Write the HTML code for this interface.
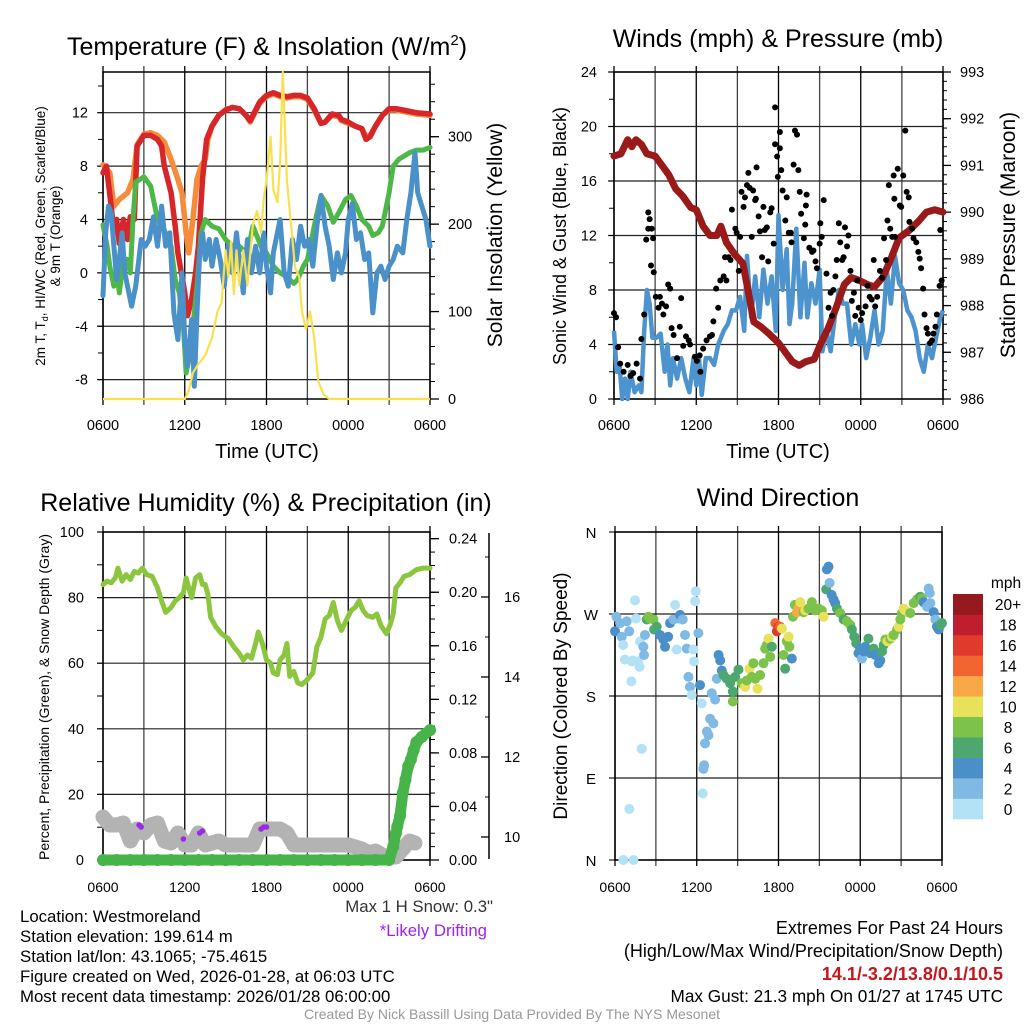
<!DOCTYPE html>
<html><head><meta charset="utf-8"><style>
html,body{margin:0;padding:0;background:#fff;}
svg{display:block;font-family:"Liberation Sans",sans-serif;}
</style></head><body>
<svg id="fig" width="1024" height="1024" viewBox="0 0 1024 1024" xmlns="http://www.w3.org/2000/svg">
<rect width="1024" height="1024" fill="#fff"/>
<g id="p1"></g>
<g id="p2"></g>
<g id="p3"></g>
<g id="p4"></g>
<g font-size="25" fill="#000" text-anchor="middle">
<text x="267" y="55">Temperature (F) &amp; Insolation (W/m<tspan dy="-10" font-size="15">2</tspan><tspan dy="10">)</tspan></text>
<text x="778" y="47">Winds (mph) &amp; Pressure (mb)</text>
<text x="266" y="511">Relative Humidity (%) &amp; Precipitation (in)</text>
<text x="778" y="506">Wind Direction</text>
</g>
<g fill="#000" text-anchor="middle">
<text x="267" y="458" font-size="20">Time (UTC)</text>
<text x="778" y="458" font-size="20">Time (UTC)</text>
<text font-size="13.5" transform="translate(45,236) rotate(-90)">2m T, T<tspan font-size="9" dy="3">d</tspan><tspan dy="-3">, HI/WC (Red, Green, Scarlet/Blue)</tspan></text>
<text font-size="13.5" transform="translate(60,236) rotate(-90)">&amp; 9m T (Orange)</text>
<text font-size="21" transform="translate(502,235) rotate(-90)">Solar Insolation (Yellow)</text>
<text font-size="18" transform="translate(566,236) rotate(-90)">Sonic Wind &amp; Gust (Blue, Black)</text>
<text font-size="21" transform="translate(1015,235) rotate(-90)">Station Pressure (Maroon)</text>
<text font-size="14" transform="translate(49,697) rotate(-90)">Percent, Precipitation (Green), &amp; Snow Depth (Gray)</text>
<text font-size="19" transform="translate(567,696) rotate(-90)">Direction (Colored By Speed)</text>
</g>
<g font-size="16.8" fill="#000">
<text x="20" y="922">Location: Westmoreland</text>
<text x="20" y="942">Station elevation: 199.614 m</text>
<text x="20" y="962">Station lat/lon: 43.1065; -75.4615</text>
<text x="20" y="982">Figure created on Wed, 2026-01-28, at 06:03 UTC</text>
<text x="20" y="1002">Most recent data timestamp: 2026/01/28 06:00:00</text>
<text x="493" y="912" text-anchor="end" fill="#333">Max 1 H Snow: 0.3"</text>
<text x="487" y="936" text-anchor="end" fill="#a020f0">*Likely Drifting</text>
<text x="1003" y="934" text-anchor="end" font-size="18">Extremes For Past 24 Hours</text>
<text x="1003" y="957" text-anchor="end" font-size="18">(High/Low/Max Wind/Precipitation/Snow Depth)</text>
<text x="1003" y="980" text-anchor="end" fill="#c4161c" font-weight="bold" font-size="18">14.1/-3.2/13.8/0.1/10.5</text>
<text x="1003" y="1002" text-anchor="end" font-size="17.2">Max Gust: 21.3 mph On 01/27 at 1745 UTC</text>
<text x="512" y="1019" text-anchor="middle" font-size="14" fill="#999">Created By Nick Bassill Using Data Provided By The NYS Mesonet</text>
</g>
</svg>
<script>
// ---------- data (hours since 0600 UTC) ----------
const xTickLabels = ["0600","1200","1800","0000","0600"];
const tempRed = [[0,7.5],[0.25,8],[0.6,5],[0.8,3],[1,4],[1.2,2.2],[1.5,4],[1.8,2.5],[2,4.2],[2.3,4],[2.5,9.5],[3,10.3],[3.5,10.3],[4,10],[4.3,9.5],[4.5,8],[5,6],[5.3,3.5],[5.5,1.5],[6,-1.5],[6.2,-3.2],[6.5,-2],[6.8,0],[7,2],[7.3,7],[7.6,10],[8,11],[8.5,11.8],[9,12.2],[9.5,12.4],[10,12.3],[10.5,11.8],[10.8,11.4],[11,11.8],[11.5,12.8],[12,13.3],[12.5,13.5],[13,13.3],[13.5,13.2],[14,13.3],[14.5,13.3],[15,13.1],[15.5,12.3],[16,11.2],[16.3,11.3],[16.8,11.9],[17.3,11.8],[17.5,11.5],[18,11.3],[18.5,11],[19,10.8],[19.3,10],[19.6,10.2],[20,11],[20.5,11.8],[21,12.3],[21.5,12.3],[22,12.2],[23,12],[24,11.9]];
const tempOrange = [[0,8.1],[0.5,7.5],[0.8,5],[1.2,5.5],[1.8,6],[2.2,7],[2.5,9.6],[3,10.4],[3.5,10.5],[4,10.3],[4.5,9.8],[5,8.5],[5.5,7],[5.8,6],[6.1,3],[6.3,1.5],[6.6,4],[6.9,7],[7.2,8],[7.5,8.5],[7.7,10],[8,11],[8.5,11.8],[9,12.2],[9.5,12.4],[10,12.3],[10.5,11.8],[10.8,11.3],[11,11.7],[11.5,12.7],[12,13.2],[12.5,13.4],[13,13.2],[13.5,13.1],[14,13.2],[14.5,13.2],[15,13],[15.5,12.2],[16,11.2],[16.3,11.3],[16.8,11.8],[17.3,11.7],[17.5,11.4],[18,11.2],[18.5,11],[19,10.8],[19.3,10.2],[19.6,10.3],[20,11],[20.5,11.8],[21,12.2],[21.5,12.2],[22,12.1],[23,11.9],[24,11.8]];
const tempGreen = [[0,3.6],[0.3,2],[0.5,0.5],[0.8,-1],[1,0.5],[1.2,-1.5],[1.5,1],[1.8,1],[2,0],[2.2,4],[2.4,6.8],[3,7.2],[3.5,6.5],[4,4],[4.5,3.2],[5,2],[5.3,-0.5],[5.6,-1.5],[5.9,-4],[6.1,-7.5],[6.3,-6.5],[6.6,-4],[6.9,-1],[7.2,3],[7.5,4],[8,3.5],[8.5,3.3],[9,2.5],[9.5,2],[10,2],[10.5,1.5],[10.8,2.5],[11,3.5],[11.4,2.5],[11.8,1.5],[12,1.5],[12.5,0.5],[13,0],[13.5,-0.3],[14,-0.8],[14.3,-0.5],[14.7,0.5],[15,1],[15.3,2.5],[15.6,4],[16,5.8],[16.5,5],[16.9,3.8],[17.3,4.5],[17.8,5.5],[18.2,5.8],[18.6,5],[19,4],[19.5,3.5],[19.8,2.8],[20.2,3],[20.5,3.5],[21,6],[21.3,8],[21.7,8.5],[22,8.7],[22.5,9],[23,9.2],[23.5,9.2],[24,9.4]];
const tempBlue = [[0,-1.7],[0.2,3],[0.4,5],[0.6,4.5],[0.8,2],[1,-0.5],[1.2,1],[1.4,3],[1.6,0],[1.8,-1],[2.1,-2.5],[2.4,-1],[2.8,2.5],[3.1,2],[3.4,2.5],[3.7,4.2],[4,2],[4.3,5],[4.6,2],[4.9,3],[5.2,-3],[5.5,-5],[5.8,0],[6,-5],[6.2,-7],[6.5,-3.5],[6.7,-8.5],[6.9,-3],[7.1,1.5],[7.3,3],[7.5,1],[7.8,2.5],[8,0.5],[8.3,2.5],[8.6,1],[8.9,-1],[9.2,2],[9.5,0],[9.8,3],[10,1],[10.3,-1.5],[10.6,2.5],[10.9,0],[11.2,2],[11.5,0],[11.8,3],[12,0.5],[12.3,-1.5],[12.5,1.5],[12.8,3],[13,4],[13.3,0],[13.6,-1],[13.9,2.5],[14.2,1],[14.5,3.5],[14.8,2],[15.1,2.5],[15.4,0.5],[15.7,3.5],[16,5.8],[16.3,3.5],[16.6,2],[16.9,-0.5],[17.2,1.5],[17.5,0],[17.8,1.5],[18,4],[18.3,5.2],[18.6,2.5],[18.9,3],[19.2,1],[19.5,1.5],[19.8,-3],[20.1,0],[20.4,0.5],[20.7,-0.5],[21,0.5],[21.3,1],[21.6,2],[22,1.5],[22.3,4],[22.6,6],[22.9,9],[23.1,6],[23.4,5],[23.7,4],[24,2]];
const solar = [[0,0],[6,0],[6.3,10],[6.6,30],[7,40],[7.5,50],[8,70],[8.4,100],[8.7,110],[9,170],[9.2,140],[9.4,180],[9.6,120],[9.8,170],[10,130],[10.3,170],[10.6,130],[11,200],[11.3,215],[11.6,190],[11.8,230],[12,250],[12.3,300],[12.5,240],[12.8,225],[13,270],[13.2,374],[13.5,250],[13.8,200],[14.1,150],[14.4,140],[14.6,100],[14.9,80],[15.2,100],[15.5,70],[15.8,20],[16.2,5],[16.6,0],[24,0]];
const windSpeed = [[0,5],[0.2,2],[0.4,2.5],[0.6,0],[0.8,1.5],[1,0],[1.2,2],[1.5,0.5],[1.8,1],[2,0.5],[2.2,5],[2.4,8],[2.6,7],[2.8,4.5],[3.1,4.5],[3.4,4.8],[3.7,2],[3.9,4],[4.1,1],[4.3,3],[4.6,1.5],[4.9,3],[5.2,1.5],[5.5,0.5],[5.8,3],[6,1],[6.2,3],[6.4,0.3],[6.7,3],[7,3],[7.3,2.5],[7.6,4],[8,5],[8.3,5.5],[8.6,6.5],[8.9,6.5],[9.2,7.5],[9.5,5],[9.7,10.5],[10,6],[10.3,9],[10.6,6],[10.9,9.5],[11.2,7],[11.5,9],[11.8,5],[12,13.5],[12.3,8],[12.6,11],[12.8,5.5],[13,7],[13.3,12.5],[13.6,6],[13.9,10],[14.1,6],[14.4,8.5],[14.7,7],[15,9.5],[15.2,3.5],[15.5,5],[15.8,3.5],[16.1,6],[16.4,8],[16.7,7],[17,7],[17.3,4],[17.6,5.5],[17.9,4],[18.1,5.5],[18.4,3],[18.7,4.5],[19,6.5],[19.3,4],[19.6,5],[19.9,9.5],[20.2,7],[20.5,10.5],[20.8,8.5],[21.1,8],[21.4,6.5],[21.7,6],[22,5],[22.3,3],[22.6,2],[22.9,4],[23.2,3],[23.5,4.5],[23.8,6],[24,6.5]];
const gusts = [[0,6.3],[0.15,6],[0.3,3.8],[0.45,2.6],[0.7,2],[1,2.5],[1.2,1.7],[1.4,1.9],[1.65,2.6],[1.9,1.5],[2,4.4],[2.2,6.2],[2.35,11.7],[2.5,13.7],[2.5,12.5],[2.6,13.2],[2.75,12.5],[2.85,11.8],[2.7,9.8],[2.9,9.3],[3.05,7.5],[3.25,6.7],[3.35,7.5],[3.5,7],[3.6,6.2],[3.8,6.8],[3.95,8.4],[4.1,8.1],[4.2,5.2],[4.35,4.7],[4.6,3],[4.8,5.3],[4.9,7.4],[5.05,3.9],[5.25,4.6],[5.45,4.3],[5.55,4],[5.9,3.1],[6.05,2.8],[6.25,3.2],[6.3,2],[6.5,3.7],[6.75,4.3],[7,4.6],[7.15,4.7],[7.25,5.7],[7.45,8.1],[7.6,6.7],[7.75,8.7],[8,9],[8.1,10.4],[8.2,8.7],[8.35,10.4],[8.5,10.2],[8.6,13.9],[8.85,12.5],[8.95,12.2],[9.1,9.4],[9.2,11.9],[9.3,15.2],[9.45,14.1],[9.55,14.8],[9.7,15.7],[9.8,16.6],[9.9,15.5],[10.05,11.9],[10.15,15.3],[10.3,14.6],[10.35,14.7],[10.4,17],[10.55,13.4],[10.65,12.3],[10.8,10.4],[10.9,14.1],[11,12.4],[11.15,12.6],[11.25,10.1],[11.4,13.7],[11.5,14],[11.65,11.4],[11.75,18.7],[11.75,21.4],[11.9,17.8],[11.95,16.3],[12.1,19.6],[12.1,18.4],[12.2,16.8],[12.3,15.3],[12.5,13.1],[12.6,14.8],[12.75,12.2],[12.9,12.2],[12.95,11.5],[13.1,17.2],[13.2,19.7],[13.35,19.4],[13.45,16.8],[13.55,15.2],[13.65,13.6],[13.85,11.8],[13.95,12.8],[14,14.2],[14.05,15],[14.25,11.1],[14.45,10.8],[14.55,10.9],[14.7,10.1],[14.8,9.6],[15.05,12.9],[15.15,11.9],[15.3,14.6],[15,11.4],[15.5,9.2],[15.65,6.7],[15.8,7.8],[15.9,6.1],[16,8],[16.15,9],[16.25,10.2],[16.4,12.9],[16.5,11.5],[16.65,10.2],[16.75,10.4],[16.85,12.6],[17,11.2],[17.1,12],[17.25,9.4],[17.35,7.2],[17.5,7.8],[17.6,6.1],[17.75,8.7],[17.85,6.7],[18,5.8],[18.1,6.3],[18.35,6.8],[18.5,8.3],[18.65,7.5],[18.8,7.3],[18.95,10.2],[19.05,6.8],[19.2,7.5],[19.4,9.4],[19.55,8.9],[19.7,11.8],[19.85,10.2],[19.95,13.1],[20.05,15.7],[20.15,12.5],[20.3,11.9],[20.4,16.4],[20.45,14.7],[20.5,11.9],[20.7,16.9],[20.85,14.2],[20.95,14.1],[21.1,16.4],[21.25,19.7],[21.35,15.2],[21.5,14.8],[21.55,13],[21.75,12.5],[21.85,11.8],[22.05,11.5],[22.2,10.8],[22.3,10.3],[22.4,9.6],[22.55,8.1],[22.65,6.2],[22.8,5.2],[22.9,4.8],[23.05,4.1],[23.2,4.3],[23.3,4.8],[23.45,5.3],[23.55,6.2],[23.75,8.3],[23.9,8.7],[23.8,12.4]];
const pressure = [[0,991.2],[0.5,991.25],[1,991.55],[1.3,991.4],[1.6,991.55],[2,991.45],[2.4,991.25],[3,991.2],[3.5,991.0],[4,990.8],[4.5,990.5],[5,990.35],[5.6,990.1],[6,990.05],[6.5,989.7],[7,989.5],[7.5,989.5],[7.8,989.7],[8.2,989.35],[8.8,989.1],[9.4,988.9],[9.8,988.3],[10.2,987.65],[10.7,987.55],[11.3,987.4],[12,987.2],[12.5,987.0],[13,986.8],[13.5,986.72],[14,986.8],[14.6,986.85],[15.1,987.2],[15.6,987.5],[16.2,987.95],[16.8,988.45],[17.3,988.6],[17.8,988.55],[18.5,988.45],[19,988.4],[19.6,988.6],[20.2,989.0],[20.8,989.45],[21.5,989.6],[22.2,989.8],[22.8,990.0],[23.4,990.05],[24,990.0]];
const humidity = [[0,84],[0.3,85],[0.6,84.5],[0.9,86],[1.1,89],[1.4,85],[1.7,87],[2,85.5],[2.3,88],[2.6,87.5],[2.9,89],[3.2,87],[3.6,86.5],[4,83],[4.3,79],[4.6,75.5],[5,77],[5.3,79],[5.6,80],[5.9,81.5],[6.1,86],[6.3,83],[6.5,80],[6.8,86],[7.1,87],[7.3,84],[7.5,84],[7.7,81],[7.9,74],[8.3,71],[8.7,69],[9.2,67.5],[9.6,65],[10,63],[10.3,61],[10.6,62.5],[10.9,61.5],[11.2,66],[11.4,69.5],[11.7,66],[12,61],[12.3,60],[12.5,57],[12.8,56.5],[13,61],[13.3,62.5],[13.5,66],[13.7,56],[14,57.5],[14.3,54],[14.6,53.5],[15,55],[15.4,57],[15.7,65],[16,68],[16.3,73.5],[16.6,74.5],[16.9,78.5],[17.2,73],[17.5,70],[17.9,73.5],[18.2,76],[18.5,77],[18.8,79],[19.1,76],[19.4,74.5],[19.8,74],[20.1,75],[20.4,71.5],[20.8,69],[21.1,72],[21.3,75],[21.5,83],[21.8,84.5],[22.1,86.5],[22.5,87],[23,88.5],[23.5,89],[24,89]];
const snowDepth = [[0,10.5],[0.5,10.3],[1,10.3],[1.5,10.35],[2,9.9],[2.5,10.2],[3,10.1],[3.5,10.3],[4,10.35],[4.5,9.9],[5,9.85],[5.5,10.1],[6,9.8],[6.5,9.8],[7,10.1],[7.5,9.8],[8,9.85],[8.5,9.9],[9,9.8],[10,9.8],[11,9.8],[11.5,10.2],[12,10.2],[13,10.2],[13.5,10.1],[14,9.8],[15,9.8],[18,9.8],[19,9.7],[19.5,9.6],[20,9.65],[20.5,9.55],[21,9.5],[21.5,9.5],[22,9.7],[22.5,9.9],[22.9,9.85]];
const drifting = [[2.65,10.3],[2.8,10.25],[5.9,9.95],[7.1,10.1],[7.3,10.15],[11.6,10.2],[11.8,10.25],[12,10.25]];
const precip = [[0,0],[1,0],[2,0],[3,0],[4,0],[5,0],[6,0],[7,0],[8,0],[9,0],[10,0],[11,0],[12,0],[13,0],[14,0],[15,0],[16,0],[17,0],[18,0],[19,0],[20,0],[21,0],[21.3,0.01],[21.5,0.02],[21.6,0.025],[21.8,0.033],[22,0.05],[22.2,0.06],[22.4,0.07],[22.6,0.075],[22.8,0.082],[23,0.088],[23.4,0.092],[24,0.097]];
const windDir = [[0,251,5],[0.1,267,3],[0.37,260,3],[0.49,245,3],[0.6,236,1],[0.73,220,1],[0.86,262,3],[1.05,251,3],[1.22,218,1],[1.2,196,1],[1.3,219,1],[1.47,285,1],[1.54,265,1],[1.7,218,1],[1.8,212,1],[1.84,240,1],[1.96,122,1],[2.08,234,3],[2.13,225,3],[2.2,247,3],[2.33,264,7],[2.45,267,9],[2.57,265,9],[2.82,264,9],[2.87,253,7],[3.06,256,7],[3.3,247,5],[3.55,242,5],[3.67,234,5],[3.9,245,5],[4.04,260,5],[4.29,264,3],[4.41,280,1],[4.53,231,1],[4.65,265,3],[4.78,269,5],[4.97,264,3],[5.14,247,3],[5.27,232,3],[5.39,201,3],[5.5,190,3],[5.63,181,1],[5.76,231,1],[5.8,218,1],[5.93,295,1],[5.88,284,1],[6.12,249,3],[6.24,192,5],[6.37,172,1],[6.44,73,1],[6.49,100,3],[6.54,104,3],[6.61,128,3],[6.74,141,3],[6.86,137,3],[6.98,155,3],[7.1,183,3],[7.22,150,3],[7.35,176,3],[7.47,199,3],[7.6,225,5],[7.72,219,5],[7.84,208,5],[7.96,203,7],[8.2,199,7],[8.45,194,7],[8.65,185,7],[8.65,174,9],[8.82,201,7],[9.06,209,7],[9.3,194,9],[9.55,190,11],[9.67,197,9],[9.87,210,11],[10.04,201,9],[10.16,216,9],[10.29,199,9],[10.46,188,11],[10.65,203,9],[10.9,216,9],[11.02,232,9],[11.14,236,9],[11.27,243,11],[11.39,223,9],[11.51,234,7],[11.76,260,15],[11.88,251,17],[12,256,17],[12.12,256,15],[12.25,254,11],[12.37,225,9],[12.49,210,7],[12.61,240,9],[12.74,245,11],[12.8,234,9],[12.98,221,5],[13.06,267,9],[13.2,280,9],[13.35,272,13],[13.47,276,13],[13.6,283,11],[13.84,272,9],[13.96,274,11],[14.2,276,9],[14.45,283,9],[14.7,274,9],[14.94,276,9],[15.18,274,9],[15.31,267,11],[15.5,297,7],[15.55,319,5],[15.67,322,5],[15.75,304,3],[15.9,291,5],[16.04,286,5],[16.16,282,5],[16.29,276,7],[16.53,271,9],[16.78,264,7],[17.02,262,9],[17.27,258,9],[17.39,253,7],[17.56,245,7],[17.7,238,7],[17.87,227,5],[17.99,232,5],[18.12,221,3],[18.25,229,5],[18.37,234,5],[18.6,243,7],[18.74,227,5],[18.98,232,7],[19.1,225,5],[19.35,216,5],[19.47,219,5],[19.6,229,7],[19.72,236,7],[19.84,242,9],[20,240,11],[20.2,243,9],[20.33,245,11],[20.45,247,9],[20.7,253,9],[20.82,256,11],[20.94,264,9],[21.06,271,9],[21.18,276,11],[21.3,274,11],[21.55,272,11],[21.67,271,9],[21.92,282,9],[22.16,286,9],[22.41,289,7],[22.53,287,9],[22.65,283,5],[22.9,278,3],[23.02,298,3],[23.1,293,3],[23.14,282,3],[23.39,272,5],[23.51,264,3],[23.63,256,5],[23.76,253,5],[23.88,258,7],[24,260,7],[0.61,0,1],[1.35,0,1],[1.05,56,1]];
const speedColors = ["#b3e2f7","#7fb9e4","#4a8fc7","#4ca86e","#7dc24b","#e8e15a","#f8a846","#f26530","#e03a2c","#be1e2d","#951a1d"];
const speedLabels = ["0","2","4","6","8","10","12","14","16","18","20+"];
const dirLabels = ["N","E","S","W","N"];

// ---------- helpers ----------
const NS = "http://www.w3.org/2000/svg";
function mk(tag, attrs, parent){const e=document.createElementNS(NS,tag);for(const k in attrs)e.setAttribute(k,attrs[k]);parent.appendChild(e);return e;}
function lin(d0,d1,r0,r1){return v=>r0+(v-d0)/(d1-d0)*(r1-r0);}
function pathOf(pts,fx,fy){return pts.map((p,i)=>(i?"L":"M")+fx(p[0]).toFixed(1)+","+fy(p[1]).toFixed(1)).join("");}

function frame(g,X0,X1,Y0,Y1,hTicks,fy,xfs,xly){
  const fx=lin(0,24,X0,X1);
  for(let h=0;h<=24;h+=3){
    const l=mk('line',{x1:fx(h),x2:fx(h),y1:Y0-6,y2:Y1+6,stroke:(h%6==0)?'#000':'#444','stroke-width':1.3},g);
    
    
  }
  hTicks.forEach(v=>{
    const l=mk('line',{x1:X0-6,x2:X1,y1:fy(v),y2:fy(v),stroke:'#222','stroke-width':1.2},g);
    
    
  });
  const r=mk('rect',{x:X0,y:Y0,width:X1-X0,height:Y1-Y0,fill:'none',stroke:'#000','stroke-width':1.5},g);
  
  
  xTickLabels.forEach((t,i)=>{
    const tx=mk('text',{x:fx(i*6),y:xly,'font-size':xfs,'text-anchor':'middle'},g);
    
    
    tx.textContent=t;
  });
  return fx;
}
function yLabels(g,vals,fy,x,anchor,fs,fmt){
  vals.forEach(v=>{
    const t=mk('text',{x:x,y:fy(v)+5,'font-size':fs,'text-anchor':anchor},g);
    
    
    t.textContent=fmt?fmt(v):String(v);
  });
}
function ticks(g,vals,fy,x,len,w){
  vals.forEach(v=>{
    const l=mk('line',{x1:x,x2:x+len,y1:fy(v),y2:fy(v),stroke:'#000','stroke-width':w||1},g);
    
    
  });
}
function range(a,b,s){const o=[];for(let v=a;v<=b+1e-9;v+=s)o.push(+v.toFixed(4));return o;}

// ---------- panel 1 ----------
(function(){
  const g=document.getElementById('p1');
  const fy=lin(-9.45,15.05,399,72), fyR=lin(0,374,399,72);
  const fx=frame(g,103,430,72,399,[-8,-4,0,4,8,12],fy,14.5,430);
  ticks(g,range(-8,14,2),fy,103,-5);
  yLabels(g,[-8,-4,0,4,8,12],fy,88,'end',14.5);
  ticks(g,range(0,360,20),fyR,430,5);
  ticks(g,[0,100,200,300],fyR,430,9,1.3);
  yLabels(g,[0,100,200,300],fyR,448,'start',14.5);
  const defs=[[tempOrange,'#f58b3b',5.5,'temp-9m-line'],[tempRed,'#d7262a',5.5,'temp-2m-line'],[tempGreen,'#4db848',5,'dewpoint-line'],[tempBlue,'#4a91ca',5,'windchill-line']];
  defs.forEach(d=>{
    const p=mk('path',{d:pathOf(d[0],fx,fy),fill:'none',stroke:d[1],'stroke-width':d[2],'stroke-linejoin':'round','stroke-linecap':'round'},g);
    
    
  });
  const s=mk('path',{d:pathOf(solar,fx,fyR),fill:'none',stroke:'#fbe04e','stroke-width':2.2,'stroke-linejoin':'round'},g);
  
  
})();

// ---------- panel 2 ----------
(function(){
  const g=document.getElementById('p2');
  const fy=lin(0,24,399,72), fyR=lin(986,993,399,72);
  const fx=frame(g,614,943,72,399,[0,4,8,12,16,20,24],fy,14.5,430);
  ticks(g,range(0,24,2),fy,614,-5);
  yLabels(g,[0,4,8,12,16,20,24],fy,597,'end',14.5);
  ticks(g,range(986,993,0.2),fyR,943,4);
  ticks(g,range(986,993,1),fyR,943,8,1.3);
  yLabels(g,range(986,993,1),fyR,960,'start',14.5);
  const w=mk('path',{d:pathOf(windSpeed,fx,fy),fill:'none',stroke:'#4d94cf','stroke-width':4.5,'stroke-linejoin':'round'},g);
  
  
  const p=mk('path',{d:pathOf(pressure,fx,fyR),fill:'none',stroke:'#9a1a1a','stroke-width':7,'stroke-linejoin':'round','stroke-linecap':'round'},g);
  
  
  gusts.forEach(d=>{
    const c=mk('circle',{cx:fx(d[0]),cy:fy(d[1]),r:3,fill:'#000'},g);
    
    
  });
})();

// ---------- panel 3 ----------
(function(){
  const g=document.getElementById('p3');
  const fy=lin(0,100,860,532), fyP=lin(0,0.245,860,532), fyS=lin(9.425,17.625,860,532);
  const fx=frame(g,103,430,532,860,[0,20,40,60,80,100],fy,14,892);
  ticks(g,range(0,100,10),fy,103,-6);
  yLabels(g,[0,20,40,60,80,100],fy,84,'end',14.5);
  ticks(g,range(0,0.24,0.01),fyP,430,5);
  ticks(g,range(0,0.24,0.04),fyP,430,9,1.3);
  yLabels(g,range(0,0.24,0.04),fyP,449,'start',14.5,v=>v.toFixed(2));
  const ax=mk('line',{x1:489,x2:489,y1:533,y2:859,stroke:'#000','stroke-width':1.5},g);
  
  
  ticks(g,range(10,17,1),fyS,489,-4);
  ticks(g,[10,12,14,16],fyS,489,-8,1.3);
  yLabels(g,[10,12,14,16],fyS,504,'start',14.5);
  const s=mk('path',{d:pathOf(snowDepth,fx,fyS),fill:'none',stroke:'#b3b3b3','stroke-width':15,'stroke-linejoin':'round','stroke-linecap':'round'},g);
  
  
  drifting.forEach(d=>{
    const c=mk('circle',{cx:fx(d[0]),cy:fyS(d[1]),r:2.8,fill:'#9a2be2'},g);
    
    
  });
  const h=mk('path',{d:pathOf(humidity,fx,fy),fill:'none',stroke:'#8cc63f','stroke-width':5,'stroke-linejoin':'round','stroke-linecap':'round'},g);
  
  
  const pl=mk('path',{d:pathOf(precip,fx,fyP),fill:'none',stroke:'#46b449','stroke-width':11,'stroke-linejoin':'round','stroke-linecap':'round'},g);
  
  
  precip.forEach(d=>{
    const c=mk('circle',{cx:fx(d[0]),cy:fyP(d[1]),r:6,fill:'#46b449'},g);
    
    
  });
})();

// ---------- panel 4 ----------
(function(){
  const g=document.getElementById('p4');
  const fy=lin(0,360,860,532);
  const fx=frame(g,615,942,532,860,[0,90,180,270,360],fy,14,892);
  dirLabels.forEach((t,i)=>{
    const tx=mk('text',{x:591,y:fy(i*90)+6,'font-size':15,'text-anchor':'middle'},g);
    
    
    tx.textContent=t;
  });
  windDir.forEach(d=>{
    const bin=Math.min(10,Math.floor(d[2]/2));
    const c=mk('circle',{cx:fx(d[0]),cy:fy(d[1]),r:5,fill:speedColors[bin]},g);
    
    
  });
  const bh=(819-594)/11;
  speedColors.forEach((col,i)=>{
    const y=819-(i+1)*bh;
    const r=mk('rect',{x:953,y:y,width:30,height:bh+0.3,fill:col},g);
    
    
    const t=mk('text',{x:1008,y:y+bh/2+6,'font-size':15.5,'text-anchor':'middle'},g);
    
    
    t.textContent=speedLabels[i];
  });
  const m=mk('text',{x:1006,y:588,'font-size':15.5,'text-anchor':'middle'},g);
  
  
  m.textContent='mph';
})();
</script>
</body></html>
